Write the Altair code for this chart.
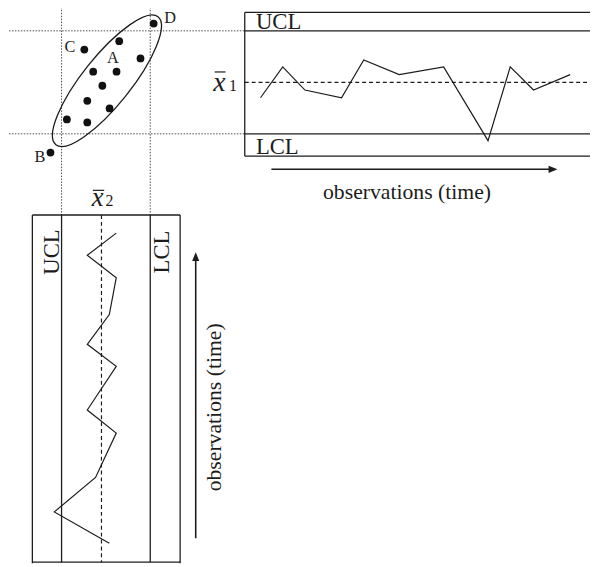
import altair as alt
import pandas as pd

# ---------------- values ----------------
# units: distance from the centre line, control limits at +3 (UCL) and -3 (LCL)
scatter_x2 = [-3.23, -0.90, 1.46, -2.34, 0.86, -0.72, 0.24, 1.26, -0.25, 2.64, 1.26, 3.75]
scatter_x1 = [3.42, 2.40, 1.91, 1.39, 0.62, 0.62, -0.20, -1.08, -1.52, -2.16, -2.34, -4.09]

point_labels = ["D", "C", "A", "B"]
label_x2 = [-4.34, 2.43, -0.48, 4.47]
label_x1 = [3.45, 1.79, 1.12, -4.63]

ellipse_x2 = [-0.07]
ellipse_x1 = [0.09]

x1_time = [0, 1, 2, 3.65, 4.65, 6.25, 8.25, 10.25, 11.25, 12.3, 13.95]
x1_values = [-0.9, 0.9, -0.45, -0.9, 1.3, 0.45, 0.9, -3.4, 0.9, -0.45, 0.45]

x2_time = [0, 1.41, 2.96, 4.96, 6.0, 7.97, 8.96, 10.3, 11.96, 12.97, 13.97]
x2_values = [-0.23, 3.49, 0.70, -0.70, 1.26, -0.70, 1.26, -0.23, -0.70, 1.26, -0.70]

limit_names = ["UCL", "LCL"]
limit_values = [3, -3]
x1_centre = [0.0]
x2_centre = [0.3]

time_title = "observations (time)"

# ---------------- layout ----------------
W, H = 590, 559
SERIF = "Liberation Serif"
INK = "#1c1c1c"
DOT = "#4a4a4a"


def px(v):
    # page pixel -> chart pixel (page has an 8px margin)
    return v - 8


X1 = alt.Scale(domain=[-3, 3], range=[px(131.7), px(27.3)], nice=False, zero=False)
X2 = alt.Scale(domain=[-3, 3], range=[px(152.2), px(62.3)], nice=False, zero=False)
TT = alt.Scale(domain=[0, 14], range=[px(264), px(579)], nice=False, zero=False)
TB = alt.Scale(domain=[0, 14], range=[px(546.7), px(231.7)], nice=False, zero=False)

ELLIPSE = "M-1,0A1,0.295,0,1,1,1,0A1,0.295,0,1,1,-1,0Z"
HEAD_RIGHT = "M-1,-0.8L1,0L-1,0.8Z"
HEAD_UP = "M-0.8,1L0,-1L0.8,1Z"


def seg(xa, xb, ya, yb, width=1.3, dash=None, color=INK):
    kw = dict(color=color, strokeWidth=width)
    if dash:
        kw["strokeDash"] = dash
    enc = dict(x=alt.value(px(xa)), y=alt.value(px(ya)))
    if xb != xa:
        enc["x2"] = alt.value(px(xb))
    if yb != ya:
        enc["y2"] = alt.value(px(yb))
    return alt.Chart().mark_rule(**kw).encode(**enc)


def label(text, x, y, size=22, align="left", angle=0, style="normal"):
    kw = dict(text=text, font=SERIF, fontSize=size, align=align,
              baseline="alphabetic", color=INK, fontStyle=style)
    if angle:
        kw["angle"] = angle
    return alt.Chart().mark_text(**kw).encode(x=alt.value(px(x)), y=alt.value(px(y)))


def head(shape, x, y):
    return alt.Chart().mark_point(shape=shape, size=81, filled=True, color=INK,
                                  opacity=1, strokeWidth=0).encode(
        x=alt.value(px(x)), y=alt.value(px(y)))


scat_df = pd.DataFrame({"x2": scatter_x2, "x1": scatter_x1})
lab_df = pd.DataFrame({"label": point_labels, "x2": label_x2, "x1": label_x1})
ell_df = pd.DataFrame({"x2": ellipse_x2, "x1": ellipse_x1})
lim_df = pd.DataFrame({"name": limit_names, "v": limit_values})
top_df = pd.DataFrame({"t": x1_time, "v": x1_values})
bot_df = pd.DataFrame({"t": x2_time, "v": x2_values})
c1_df = pd.DataFrame({"v": x1_centre})
c2_df = pd.DataFrame({"v": x2_centre})

sx = alt.X("x2:Q", scale=X2, axis=None)
sy = alt.Y("x1:Q", scale=X1, axis=None)

# ---------------- scatter panel ----------------
panel_s = alt.layer(
    alt.Chart(lim_df).mark_rule(color=DOT, strokeWidth=1, strokeDash=[1.5, 1.5]).encode(
        y=alt.Y("v:Q", scale=X1, axis=None), x=alt.value(px(0)), x2=alt.value(px(248))),
    alt.Chart(lim_df).mark_rule(color=DOT, strokeWidth=1, strokeDash=[1.5, 1.5]).encode(
        x=alt.X("v:Q", scale=X2, axis=None), y=alt.value(px(0)), y2=alt.value(px(214))),
    alt.Chart(ell_df).mark_point(shape=ELLIPSE, size=27556, angle=128.6, filled=False,
                                 color=INK, strokeWidth=1.3, opacity=1).encode(x=sx, y=sy),
    alt.Chart(scat_df).mark_circle(size=62, color="#111111", opacity=1).encode(x=sx, y=sy),
    alt.Chart(lab_df).mark_text(font=SERIF, fontSize=16.5, align="center",
                                baseline="alphabetic", color=INK).encode(
        x=sx, y=sy, text="label:N"),
)

# ---------------- x1 control chart (top right) ----------------
ty = alt.Y("v:Q", scale=X1, axis=None)
panel_t = alt.layer(
    seg(248, 598, 8.6, 8.6),
    seg(248, 248, 8.6, 154.3),
    seg(248, 598, 154.3, 154.3),
    alt.Chart(lim_df).mark_rule(color=INK, strokeWidth=1.3).encode(
        y=ty, x=alt.value(px(248)), x2=alt.value(px(598))),
    alt.Chart(c1_df).mark_rule(color=INK, strokeWidth=1.2, strokeDash=[4, 3]).encode(
        y=ty, x=alt.value(px(248)), x2=alt.value(px(598))),
    alt.Chart(top_df).mark_line(color=INK, strokeWidth=1.2).encode(
        x=alt.X("t:Q", scale=TT, axis=None), y=ty),
    alt.Chart(lim_df).transform_filter(alt.datum.name == "UCL").mark_text(
        font=SERIF, fontSize=23, align="left", baseline="alphabetic", color=INK, dy=-1.5).encode(
        y=ty, x=alt.value(px(259.3)), text="name:N"),
    alt.Chart(lim_df).transform_filter(alt.datum.name == "LCL").mark_text(
        font=SERIF, fontSize=23, align="left", baseline="alphabetic", color=INK, dy=20).encode(
        y=ty, x=alt.value(px(259.3)), text="name:N"),
    alt.Chart(c1_df).mark_text(text="x", font=SERIF, fontSize=28, fontStyle="italic",
                               align="left", baseline="alphabetic", color=INK, dy=8.8).encode(
        y=ty, x=alt.value(px(216))),
    alt.Chart(c1_df).mark_text(text="1", font=SERIF, fontSize=16, align="left",
                               baseline="alphabetic", color=INK, dy=8.8).encode(
        y=ty, x=alt.value(px(232))),
    seg(217.5, 228.5, 69, 69, width=1.2),
    seg(275, 559, 167.7, 167.7, width=1.6),
    head(HEAD_RIGHT, 560.5, 167.7),
    label(time_title, 412.5, 198, size=22, align="center"),
)

# ---------------- x2 control chart (bottom left) ----------------
bx = alt.X("v:Q", scale=X2, axis=None)
panel_b = alt.layer(
    seg(32.7, 182.5, 214, 214),
    seg(32.7, 32.7, 214, 567),
    seg(182.5, 182.5, 214, 567),
    seg(32.7, 182.5, 565.8, 565.8),
    alt.Chart(lim_df).mark_rule(color=INK, strokeWidth=1.3).encode(
        x=bx, y=alt.value(px(214)), y2=alt.value(px(566))),
    alt.Chart(c2_df).mark_rule(color=INK, strokeWidth=1.2, strokeDash=[4, 3]).encode(
        x=bx, y=alt.value(px(214)), y2=alt.value(px(566))),
    alt.Chart(bot_df).mark_line(color=INK, strokeWidth=1.2).encode(
        x=bx, y=alt.Y("t:Q", scale=TB, axis=None), order=alt.Order("t:Q")),
    alt.Chart(lim_df).transform_filter(alt.datum.name == "UCL").mark_text(
        font=SERIF, fontSize=23, align="center", baseline="alphabetic", color=INK,
        angle=270).encode(x=alt.value(px(59.3)), y=alt.value(px(251.5)), text="name:N"),
    alt.Chart(lim_df).transform_filter(alt.datum.name == "LCL").mark_text(
        font=SERIF, fontSize=23, align="center", baseline="alphabetic", color=INK,
        angle=270).encode(x=alt.value(px(171.7)), y=alt.value(px(251.5)), text="name:N"),
    label("x", 93, 205, size=27, style="italic"),
    label("2", 106.8, 205, size=16),
    seg(94, 105.5, 189, 189, width=1.2),
    seg(198.3, 198.3, 258, 541.7, width=1.6),
    head(HEAD_UP, 198.3, 256.2),
    label(time_title, 224, 409, size=22, align="center", angle=270),
)

chart = alt.layer(panel_s, panel_t, panel_b).resolve_scale(
    x="independent", y="independent"
).properties(
    width=W, height=H, padding=0, autosize=alt.AutoSizeParams(type="none"),
    background="white",
).configure_view(stroke=None)

chart.save("out.html", embed_options={"renderer": "svg", "actions": False})
